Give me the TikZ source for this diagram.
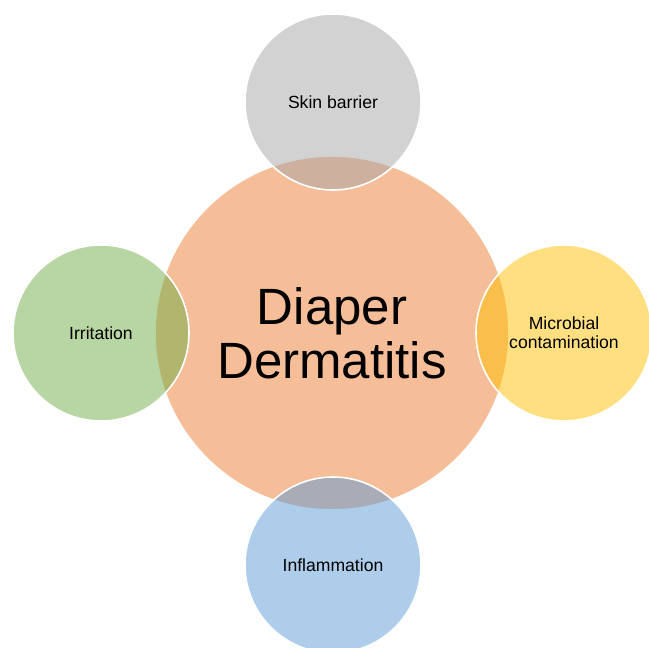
\documentclass[tikz,border=0pt]{standalone}
\usepackage{fontspec}
\setmainfont{Liberation Sans}
\definecolor{cOrange}{HTML}{ED7D31}
\definecolor{cGray}{HTML}{A5A5A5}
\definecolor{cGreen}{HTML}{70AD47}
\definecolor{cYellow}{HTML}{FFC000}
\definecolor{cBlue}{HTML}{5B9BD5}
\begin{document}
\begin{tikzpicture}[x=1pt,y=-1pt,
  bubble/.style={circle, draw=white, line width=1.6pt, fill opacity=0.5, text opacity=1, inner sep=0pt, align=center, text=black},
  hub/.style={bubble, minimum size=354pt, font=\fontsize{51}{54}\selectfont},
  sat/.style={bubble, minimum size=176pt, font=\fontsize{17.6}{18.8}\selectfont}]
\useasboundingbox (0,0) rectangle (649,648);
\node[hub, fill=cOrange] (main) at (332,333) {Diaper\\Dermatitis};
\node[sat, fill=cGray] (top) at (333,102) {Skin barrier};
\node[sat, fill=cGreen] (left) at (101,333) {Irritation};
\node[sat, fill=cYellow] (right) at (564,333) {Microbial\\contamination};
\node[sat, fill=cBlue] (bottom) at (333,565) {Inflammation};
\end{tikzpicture}
\end{document}
